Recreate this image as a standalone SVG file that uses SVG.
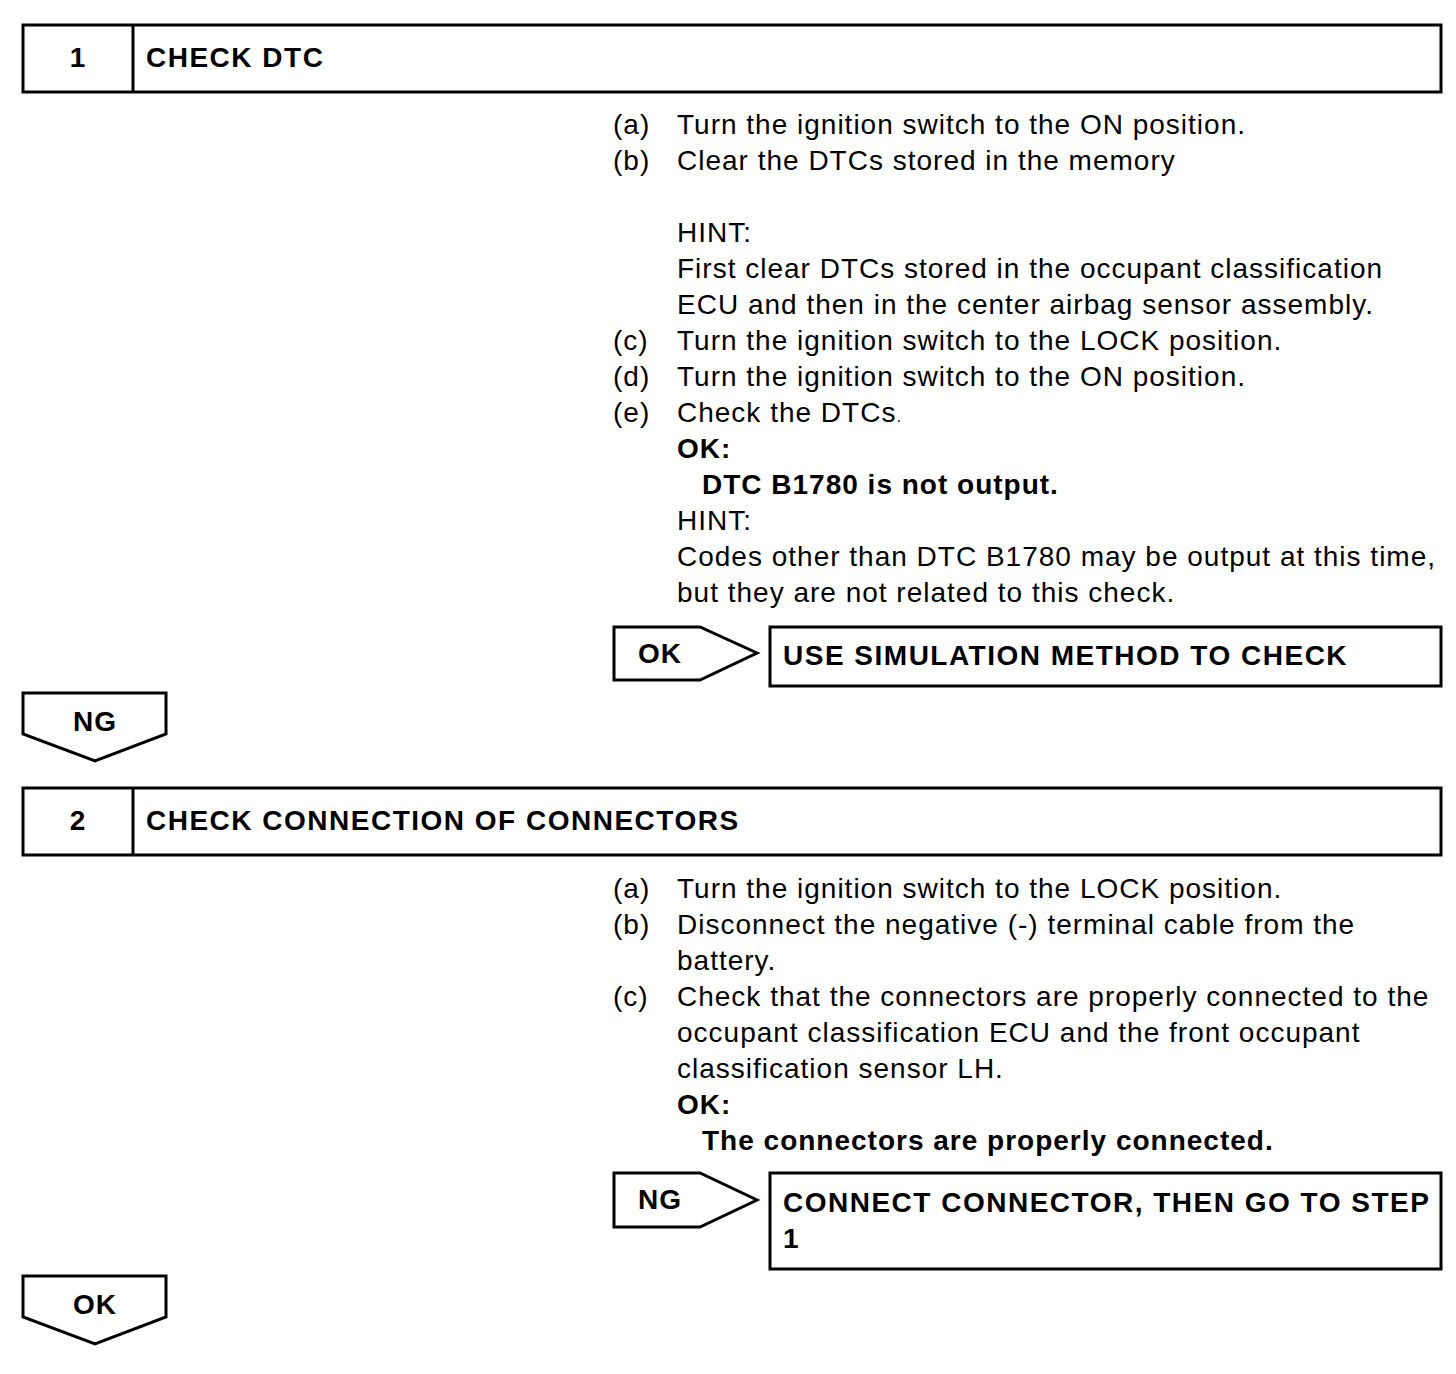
<svg xmlns="http://www.w3.org/2000/svg" width="1456" height="1374" viewBox="0 0 1456 1374">
<style>
.t{font-family:"Liberation Sans",Arial,sans-serif;font-size:28px;letter-spacing:1px;fill:#000}
.b{font-weight:bold}
.c{letter-spacing:1.5px}
.s{fill:#fff;stroke:#000;stroke-width:3}
</style>
<rect width="1456" height="1374" fill="#fff"/>
<g id="step1">
<rect class="s" x="23" y="25" width="1418" height="67"/>
<line x1="133" y1="25" x2="133" y2="92" stroke="#000" stroke-width="3"/>
<text class="t b" x="78" y="67" text-anchor="middle">1</text>
<text class="t b c" x="146" y="67">CHECK DTC</text>
</g>
<g id="text1">
<text class="t" x="613" y="134">(a)</text><text class="t" x="677" y="134">Turn the ignition switch to the ON position.</text>
<text class="t" x="613" y="170">(b)</text><text class="t" x="677" y="170">Clear the DTCs stored in the memory</text>
<text class="t" x="677" y="242">HINT:</text>
<text class="t" x="677" y="278">First clear DTCs stored in the occupant classification</text>
<text class="t" x="677" y="314">ECU and then in the center airbag sensor assembly.</text>
<text class="t" x="613" y="350">(c)</text><text class="t" x="677" y="350">Turn the ignition switch to the LOCK position.</text>
<text class="t" x="613" y="386">(d)</text><text class="t" x="677" y="386">Turn the ignition switch to the ON position.</text>
<text class="t" x="613" y="422">(e)</text><text class="t" x="677" y="422">Check the DTCs<tspan font-size="16">.</tspan></text>
<text class="t b" x="677" y="458">OK:</text>
<text class="t b" x="702" y="494">DTC B1780 is not output.</text>
<text class="t" x="677" y="530">HINT:</text>
<text class="t" x="677" y="566">Codes other than DTC B1780 may be output at this time,</text>
<text class="t" x="677" y="602">but they are not related to this check.</text>
</g>
<g id="ok1">
<polygon class="s" points="614,627 700,627 757,653 700,680 614,680"/>
<text class="t b" x="638" y="663">OK</text>
</g>
<g id="result1">
<rect class="s" x="770" y="627" width="671" height="59"/>
<text class="t b c" x="783" y="665">USE SIMULATION METHOD TO CHECK</text>
</g>
<g id="ng1">
<polygon class="s" points="23,693 166,693 166,734 95,761 23,734"/>
<text class="t b" x="95" y="731" text-anchor="middle">NG</text>
</g>
<g id="step2">
<rect class="s" x="23" y="788" width="1418" height="67"/>
<line x1="133" y1="788" x2="133" y2="855" stroke="#000" stroke-width="3"/>
<text class="t b" x="78" y="830" text-anchor="middle">2</text>
<text class="t b c" x="146" y="830">CHECK CONNECTION OF CONNECTORS</text>
</g>
<g id="text2">
<text class="t" x="613" y="898">(a)</text><text class="t" x="677" y="898">Turn the ignition switch to the LOCK position.</text>
<text class="t" x="613" y="934">(b)</text><text class="t" x="677" y="934">Disconnect the negative (-) terminal cable from the</text>
<text class="t" x="677" y="970">battery.</text>
<text class="t" x="613" y="1006">(c)</text><text class="t" x="677" y="1006">Check that the connectors are properly connected to the</text>
<text class="t" x="677" y="1042">occupant classification ECU and the front occupant</text>
<text class="t" x="677" y="1078">classification sensor LH.</text>
<text class="t b" x="677" y="1114">OK:</text>
<text class="t b" x="702" y="1150">The connectors are properly connected.</text>
</g>
<g id="ng2">
<polygon class="s" points="614,1173 700,1173 757,1200 700,1227 614,1227"/>
<text class="t b" x="638" y="1209">NG</text>
</g>
<g id="result2">
<rect class="s" x="770" y="1173" width="671" height="96"/>
<text class="t b c" x="783" y="1212">CONNECT CONNECTOR, THEN GO TO STEP</text>
<text class="t b" x="783" y="1248">1</text>
</g>
<g id="ok2">
<polygon class="s" points="23,1276 166,1276 166,1317 95,1344 23,1317"/>
<text class="t b" x="95" y="1314" text-anchor="middle">OK</text>
</g>
<g id="connectors"></g>
</svg>
